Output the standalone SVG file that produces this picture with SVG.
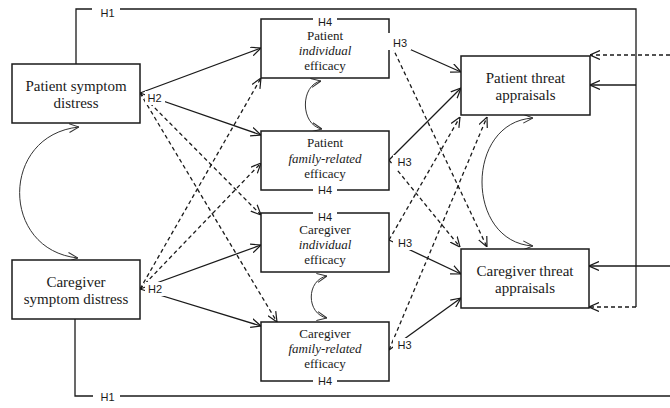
<svg xmlns="http://www.w3.org/2000/svg" width="670" height="408" viewBox="0 0 670 408">
<style>
.box{fill:#fff;stroke:#1a1a1a;stroke-width:1.5}
.t{font-family:"Liberation Serif","Times New Roman",serif;font-size:15px;fill:#1a1a1a;text-anchor:middle}
.s{font-size:13px}
.i{font-style:italic}
.h{font-family:"Liberation Sans",Arial,sans-serif;font-size:11px;fill:#1a1a1a;text-anchor:middle}
.ln{fill:none;stroke:#1a1a1a;stroke-width:1.3}
.d{stroke-dasharray:4 3}
.arc{fill:none;stroke:#333;stroke-width:1}
.bg{fill:#fff}
</style>
<defs>
<marker id="ah" viewBox="0 0 10 10" refX="10" refY="5" markerWidth="10" markerHeight="10" markerUnits="userSpaceOnUse" orient="auto-start-reverse">
<path d="M0,0.5 L10,5 L0,9.5" fill="none" stroke="#1a1a1a" stroke-width="1.2" stroke-dasharray="none"/>
</marker>
<marker id="ah2" viewBox="0 0 10 10" refX="10" refY="5" markerWidth="10" markerHeight="10" markerUnits="userSpaceOnUse" orient="auto-start-reverse">
<path d="M0,0.5 L10,5 L0,9.5" fill="none" stroke="#333" stroke-width="1" stroke-dasharray="none"/>
</marker>
</defs>
<rect width="670" height="408" fill="#fff"/>
<g id="connectors">
<path class="ln" d="M76,64 V9 H92"/>
<path class="ln" d="M120,9 H636 V307"/>
<path class="ln" d="M636,85 H590" marker-end="url(#ah)"/>
<path class="ln d" d="M636,307 H589" marker-end="url(#ah)"/>
<path class="ln" d="M75,319 V396 H93"/>
<path class="ln" d="M120,396 H670"/>
<path class="ln" d="M670,266 H589" marker-end="url(#ah)"/>
<path class="ln d" d="M670,55 H590" marker-end="url(#ah)"/>
<path class="ln" d="M140,93 L261,48" marker-end="url(#ah)"/>
<path class="ln" d="M140,93 L261,135" marker-end="url(#ah)"/>
<path class="ln d" d="M140,93 L261,215" marker-end="url(#ah)"/>
<path class="ln d" d="M140,93 L277,322" marker-end="url(#ah)"/>
<path class="ln" d="M140,289 L261,245" marker-end="url(#ah)"/>
<path class="ln" d="M140,289 L261,326" marker-end="url(#ah)"/>
<path class="ln d" d="M140,289 L261,78" marker-end="url(#ah)"/>
<path class="ln d" d="M140,289 L261,163" marker-end="url(#ah)"/>
<path class="ln" d="M389,40 L461,72" marker-end="url(#ah)"/>
<path class="ln d" d="M389,40 L487,247" marker-end="url(#ah)"/>
<path class="ln" d="M389,160 L461,88" marker-end="url(#ah)"/>
<path class="ln d" d="M389,160 L460,247" marker-end="url(#ah)"/>
<path class="ln" d="M389,240 L461,274" marker-end="url(#ah)"/>
<path class="ln d" d="M389,240 L460,117" marker-end="url(#ah)"/>
<path class="ln" d="M389,350 L461,298" marker-end="url(#ah)"/>
<path class="ln d" d="M389,350 L487,117" marker-end="url(#ah)"/>
<path class="arc" d="M79,127 C0,135 0,250 78,258" marker-start="url(#ah2)" marker-end="url(#ah2)"/>
<path class="arc" d="M321,81 C300,85 300,125 322,129" marker-start="url(#ah2)" marker-end="url(#ah2)"/>
<path class="arc" d="M327,276 C306,280 306,314 327,318" marker-start="url(#ah2)" marker-end="url(#ah2)"/>
<path class="arc" d="M533,118 C465,122 465,242 533,246" marker-start="url(#ah2)" marker-end="url(#ah2)"/>
</g>
<g id="patient-symptom">
<rect class="box" x="12" y="64" width="128" height="59"/>
<text class="t" x="76" y="91">Patient symptom</text>
<text class="t" x="76" y="108">distress</text>
</g>
<g id="caregiver-symptom">
<rect class="box" x="12" y="260" width="128" height="59"/>
<text class="t" x="76" y="287">Caregiver</text>
<text class="t" x="76" y="304">symptom distress</text>
</g>
<g id="patient-individual">
<rect class="box" x="261" y="19" width="128" height="59"/>
<text class="t s" x="325" y="40">Patient</text>
<text class="t s i" x="325" y="55">individual</text>
<text class="t s" x="325" y="70">efficacy</text>
</g>
<g id="patient-family">
<rect class="box" x="261" y="131" width="128" height="59"/>
<text class="t s" x="325" y="147">Patient</text>
<text class="t s i" x="325" y="162.5">family-related</text>
<text class="t s" x="325" y="177.5">efficacy</text>
</g>
<g id="caregiver-individual">
<rect class="box" x="261" y="213" width="128" height="59"/>
<text class="t s" x="325" y="234">Caregiver</text>
<text class="t s i" x="325" y="249">individual</text>
<text class="t s" x="325" y="263.5">efficacy</text>
</g>
<g id="caregiver-family">
<rect class="box" x="261" y="322" width="128" height="59"/>
<text class="t s" x="325" y="338">Caregiver</text>
<text class="t s i" x="325" y="353">family-related</text>
<text class="t s" x="325" y="368">efficacy</text>
</g>
<g id="patient-threat">
<rect class="box" x="461" y="56" width="129" height="59"/>
<text class="t" x="525.5" y="83">Patient threat</text>
<text class="t" x="525.5" y="100">appraisals</text>
</g>
<g id="caregiver-threat">
<rect class="box" x="461" y="249" width="128" height="59"/>
<text class="t" x="525" y="276">Caregiver threat</text>
<text class="t" x="525" y="293">appraisals</text>
</g>
<g id="labels">
<text class="h" x="107.5" y="17">H1</text>
<text class="h" x="107.5" y="401">H1</text>
<rect class="bg" x="145" y="91" width="20" height="14"/>
<text class="h" x="154.5" y="102">H2</text>
<rect class="bg" x="145" y="282" width="20" height="14"/>
<text class="h" x="155" y="293">H2</text>
<rect class="bg" x="387" y="33" width="24" height="17"/>
<text class="h" x="400" y="46.5">H3</text>
<rect class="bg" x="393" y="155" width="22" height="14"/>
<text class="h" x="404.5" y="166">H3</text>
<rect class="bg" x="393" y="236" width="22" height="14"/>
<text class="h" x="405" y="247">H3</text>
<rect class="bg" x="393" y="338" width="22" height="14"/>
<text class="h" x="404.5" y="349">H3</text>
<rect class="bg" x="313" y="16" width="24" height="6"/>
<text class="h" x="325" y="25.5">H4</text>
<rect class="bg" x="313" y="184" width="24" height="12"/>
<text class="h" x="325" y="194">H4</text>
<rect class="bg" x="313" y="210" width="24" height="6"/>
<text class="h" x="325" y="221">H4</text>
<rect class="bg" x="313" y="375" width="24" height="12"/>
<text class="h" x="325" y="385">H4</text>
</g>
</svg>
